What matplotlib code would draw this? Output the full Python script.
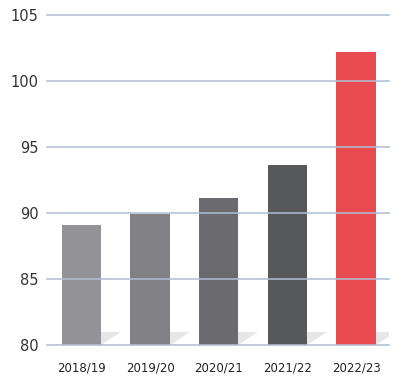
import matplotlib
matplotlib.use("Agg")
import matplotlib.pyplot as plt
from matplotlib.patches import Polygon

# Values per season
seasons = ["2018/19", "2019/20", "2020/21", "2021/22", "2022/23"]
values = [89.1, 89.9, 91.1, 93.6, 102.2]
bar_colors = ["#939397", "#818185", "#6b6b6f", "#57585a", "#e84a50"]
y_ticks = [80, 85, 90, 95, 100, 105]

fig = plt.figure(figsize=(4.09, 3.83), dpi=100)
ax = fig.add_axes([47 / 409, 38 / 383, (389 - 47) / 409, (345 - 15) / 383])

base = 80
width = 0.57
xs = list(range(len(seasons)))
bars = ax.bar(xs, [v - base for v in values], bottom=base, width=width,
              color=bar_colors, zorder=2)

# Soft floor shadow to the right of each bar
for x in xs:
    xr = x + width / 2
    tri = Polygon([(xr, base), (xr, base + 0.95), (xr + 0.29, base + 0.95)],
                  closed=True, facecolor="#e6e6e6", edgecolor="none", zorder=1)
    ax.add_patch(tri)

for t in y_ticks:
    ax.axhline(t, color="#b2bed3", lw=1.3, alpha=0.85, zorder=3, clip_on=False)

ax.set_xlim(-0.5, 4.48)
ax.set_ylim(base, 105)
ax.set_yticks(y_ticks)
ax.set_yticklabels([str(t) for t in y_ticks], fontsize=10.5, color="#333333")
ax.set_xticks(xs)
ax.set_xticklabels(seasons, fontsize=8.5, color="#222222")
ax.tick_params(axis="both", length=0)
ax.tick_params(axis="y", pad=6)
ax.tick_params(axis="x", pad=12)
for s in ax.spines.values():
    s.set_visible(False)

fig.savefig("out.png", dpi=100)
